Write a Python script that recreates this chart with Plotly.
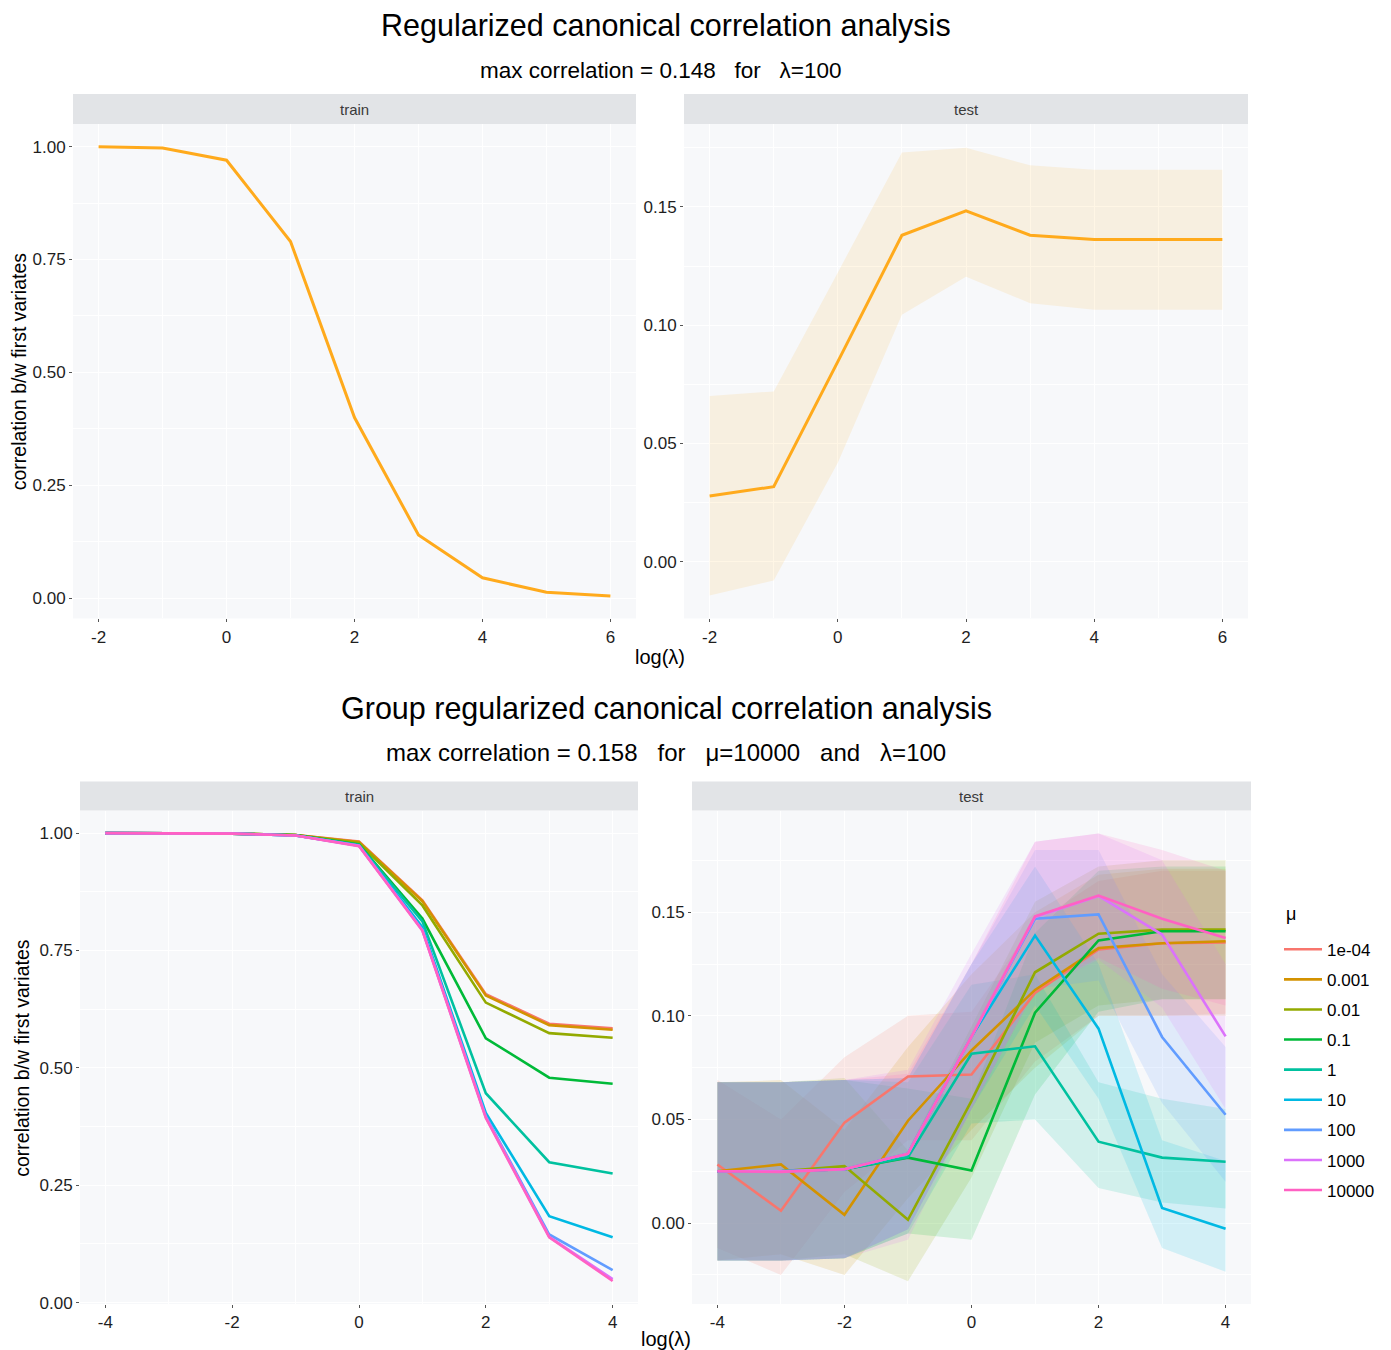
import plotly.graph_objects as go

W = 1391
SY = 1350 / 1360          # observed vertical compression of the photographed page
H = 1360

# ---------------- Data: regularized CCA ----------------
log_lambda_top = [-2, -1, 0, 1, 2, 3, 4, 5, 6]
train_top = [1.000, 0.997, 0.970, 0.790, 0.400, 0.140, 0.045, 0.013, 0.005]
test_top = [0.0278, 0.0317, 0.0846, 0.1380, 0.1483, 0.1380, 0.1362, 0.1362, 0.1362]
test_top_upper = [0.0700, 0.0720, 0.1223, 0.1730, 0.1750, 0.1676, 0.1657, 0.1657, 0.1657]
test_top_lower = [-0.0143, -0.0080, 0.0418, 0.1044, 0.1205, 0.1093, 0.1065, 0.1065, 0.1065]

x_ticks_top = [-2, 0, 2, 4, 6]
x_ticks_top_labels = ["-2", "0", "2", "4", "6"]
x_ticks_bot = [-4, -2, 0, 2, 4]
x_ticks_bot_labels = ["-4", "-2", "0", "2", "4"]
y_ticks_train = [0, 0.25, 0.5, 0.75, 1.0]
y_ticks_test = [0, 0.05, 0.10, 0.15]

# ---------------- Data: group regularized CCA ----------------
log_lambda_bot = [-4, -3, -2, -1, 0, 1, 2, 3, 4]
mu_labels = ["1e-04", "0.001", "0.01", "0.1", "1", "10", "100", "1000", "10000"]
mu_colors = ["#F8766D", "#D39200", "#93AA00", "#00BA38", "#00C19F",
             "#00B9E3", "#619CFF", "#DB72FB", "#FF61C3"]

train_mu = {
    "1e-04": [1.000, 1.000, 0.999, 0.996, 0.982, 0.857, 0.657, 0.594, 0.584],
    "0.001": [1.000, 1.000, 0.999, 0.996, 0.981, 0.855, 0.654, 0.591, 0.581],
    "0.01":  [1.000, 1.000, 0.999, 0.996, 0.979, 0.846, 0.639, 0.574, 0.564],
    "0.1":   [1.000, 1.000, 0.999, 0.996, 0.976, 0.818, 0.563, 0.479, 0.466],
    "1":     [1.000, 1.000, 0.999, 0.995, 0.975, 0.812, 0.446, 0.299, 0.275],
    "10":    [1.000, 1.000, 0.999, 0.995, 0.974, 0.800, 0.404, 0.184, 0.139],
    "100":   [1.000, 1.000, 0.999, 0.995, 0.973, 0.794, 0.397, 0.145, 0.069],
    "1000":  [1.000, 1.000, 0.999, 0.995, 0.973, 0.793, 0.395, 0.140, 0.050],
    "10000": [1.000, 1.000, 0.999, 0.995, 0.972, 0.792, 0.393, 0.139, 0.046],
}

test_mu = {
    "1e-04": [0.0283, 0.0060, 0.0485, 0.0707, 0.0717, 0.1110, 0.1320, 0.1350, 0.1354],
    "0.001": [0.0250, 0.0283, 0.0040, 0.0494, 0.0833, 0.1125, 0.1327, 0.1350, 0.1360],
    "0.01":  [0.0250, 0.0250, 0.0275, 0.0016, 0.0590, 0.1210, 0.1396, 0.1416, 0.1416],
    "0.1":   [0.0250, 0.0250, 0.0260, 0.0316, 0.0254, 0.1015, 0.1364, 0.1408, 0.1408],
    "1":     [0.0250, 0.0250, 0.0260, 0.0318, 0.0817, 0.0853, 0.0393, 0.0316, 0.0296],
    "10":    [0.0250, 0.0250, 0.0260, 0.0335, 0.0900, 0.1387, 0.0938, 0.0073, -0.0027],
    "100":   [0.0250, 0.0250, 0.0260, 0.0335, 0.0900, 0.1468, 0.1489, 0.0898, 0.0523],
    "1000":  [0.0250, 0.0250, 0.0260, 0.0335, 0.0900, 0.1477, 0.1578, 0.1392, 0.0901],
    "10000": [0.0250, 0.0247, 0.0260, 0.0335, 0.0900, 0.1480, 0.1580, 0.1468, 0.1375],
}

test_mu_upper = {
    "1e-04": [0.069, 0.050, 0.080, 0.100, 0.102, 0.145, 0.165, 0.170, 0.170],
    "0.001": [0.068, 0.069, 0.045, 0.085, 0.120, 0.150, 0.168, 0.171, 0.171],
    "0.01":  [0.068, 0.068, 0.070, 0.035, 0.095, 0.155, 0.172, 0.175, 0.175],
    "0.1":   [0.068, 0.068, 0.069, 0.065, 0.060, 0.140, 0.170, 0.172, 0.172],
    "1":     [0.068, 0.068, 0.069, 0.068, 0.115, 0.120, 0.068, 0.060, 0.055],
    "10":    [0.068, 0.068, 0.069, 0.070, 0.125, 0.172, 0.125, 0.040, 0.030],
    "100":   [0.068, 0.068, 0.069, 0.070, 0.125, 0.180, 0.180, 0.120, 0.085],
    "1000":  [0.068, 0.068, 0.069, 0.074, 0.130, 0.184, 0.188, 0.175, 0.125],
    "10000": [0.068, 0.068, 0.069, 0.072, 0.125, 0.184, 0.188, 0.180, 0.170],
}

test_mu_lower = {
    "1e-04": [-0.012, -0.025, 0.015, 0.040, 0.040, 0.078, 0.100, 0.100, 0.101],
    "0.001": [-0.018, -0.015, -0.025, 0.012, 0.045, 0.075, 0.100, 0.100, 0.100],
    "0.01":  [-0.018, -0.018, -0.015, -0.028, 0.022, 0.087, 0.105, 0.108, 0.108],
    "0.1":   [-0.018, -0.018, -0.017, -0.005, -0.008, 0.062, 0.102, 0.108, 0.108],
    "1":     [-0.018, -0.018, -0.017, -0.005, 0.048, 0.050, 0.017, 0.010, 0.007],
    "10":    [-0.018, -0.018, -0.017, -0.003, 0.055, 0.105, 0.060, -0.012, -0.0235],
    "100":   [-0.018, -0.018, -0.017, -0.003, 0.055, 0.113, 0.117, 0.058, 0.020],
    "1000":  [-0.018, -0.018, -0.017, -0.008, 0.055, 0.112, 0.127, 0.104, 0.055],
    "10000": [-0.018, -0.018, -0.017, -0.003, 0.055, 0.112, 0.128, 0.113, 0.105],
}

ORANGE = "#FFAA1C"
PANEL_BG = "#F7F8FA"
STRIP_BG = "#E2E4E7"
FONT = "Liberation Sans, Arial, Helvetica, sans-serif"
NB = "\u00a0"


def rgba(hex_color, a):
    h = hex_color.lstrip("#")
    r, g, b = int(h[0:2], 16), int(h[2:4], 16), int(h[4:6], 16)
    return f"rgba({r},{g},{b},{a})"


fig = go.Figure()

# top-left: train
fig.add_trace(go.Scatter(x=log_lambda_top, y=train_top, mode="lines",
                         line=dict(color=ORANGE, width=3), showlegend=False,
                         xaxis="x", yaxis="y"))
# top-right: test ribbon + line
fig.add_trace(go.Scatter(x=log_lambda_top + log_lambda_top[::-1],
                         y=test_top_upper + test_top_lower[::-1],
                         fill="toself", fillcolor=rgba("#FFA500", 0.10),
                         line=dict(width=0), mode="lines", hoverinfo="skip",
                         showlegend=False, xaxis="x2", yaxis="y2"))
fig.add_trace(go.Scatter(x=log_lambda_top, y=test_top, mode="lines",
                         line=dict(color=ORANGE, width=3), showlegend=False,
                         xaxis="x2", yaxis="y2"))

# bottom-left: train lines
for lab, col in zip(mu_labels, mu_colors):
    fig.add_trace(go.Scatter(x=log_lambda_bot, y=train_mu[lab], mode="lines",
                             line=dict(color=col, width=2.6), showlegend=False,
                             xaxis="x3", yaxis="y3"))

# bottom-right: ribbons first, then lines
for lab, col in zip(mu_labels, mu_colors):
    fig.add_trace(go.Scatter(x=log_lambda_bot + log_lambda_bot[::-1],
                             y=test_mu_upper[lab] + test_mu_lower[lab][::-1],
                             fill="toself", fillcolor=rgba(col, 0.15),
                             line=dict(width=0), mode="lines", hoverinfo="skip",
                             showlegend=False, xaxis="x4", yaxis="y4"))
for lab, col in zip(mu_labels, mu_colors):
    fig.add_trace(go.Scatter(x=log_lambda_bot, y=test_mu[lab], mode="lines",
                             name=lab, legendgroup=lab,
                             line=dict(color=col, width=2.6), showlegend=True,
                             xaxis="x4", yaxis="y4"))


def px_x(p):
    return p / W


def px_y(p):
    return 1 - (p / SY) / H


def xd(a, b):
    return [px_x(a), px_x(b)]


def yd(top, bottom):
    return [px_y(bottom), px_y(top)]


axis_common = dict(showline=False, zeroline=False, ticks="outside", ticklen=3,
                   tickwidth=1, tickcolor="#555555", showgrid=True,
                   gridcolor="white", gridwidth=1.4,
                   tickfont=dict(family=FONT, size=17, color="#1e1e1e"))


def minor(vals):
    return dict(tickvals=vals, showgrid=True, gridcolor="white", gridwidth=0.7, ticks="")


fig.update_layout(
    xaxis=dict(domain=xd(73, 636), range=[-2.4, 6.4], tickvals=x_ticks_top,
               ticktext=x_ticks_top_labels, minor=minor([-1, 1, 3, 5]),
               anchor="y", **axis_common),
    yaxis=dict(domain=yd(124, 618), range=[-0.045, 1.05], tickvals=y_ticks_train,
               tickformat=".2f", minor=minor([0.125, 0.375, 0.625, 0.875]),
               anchor="x", **axis_common),
    xaxis2=dict(domain=xd(684, 1248), range=[-2.4, 6.4], tickvals=x_ticks_top,
                ticktext=x_ticks_top_labels, minor=minor([-1, 1, 3, 5]),
                anchor="y2", **axis_common),
    yaxis2=dict(domain=yd(124, 618), range=[-0.024, 0.185], tickvals=y_ticks_test,
                tickformat=".2f", minor=minor([-0.025, 0.025, 0.075, 0.125, 0.175]),
                anchor="x2", **axis_common),
    xaxis3=dict(domain=xd(80, 638), range=[-4.4, 4.4], tickvals=x_ticks_bot,
                ticktext=x_ticks_bot_labels, minor=minor([-3, -1, 1, 3]),
                anchor="y3", **axis_common),
    yaxis3=dict(domain=yd(810, 1303), range=[-0.003, 1.048], tickvals=y_ticks_train,
                tickformat=".2f", minor=minor([0.125, 0.375, 0.625, 0.875]),
                anchor="x3", **axis_common),
    xaxis4=dict(domain=xd(692, 1251), range=[-4.4, 4.4], tickvals=x_ticks_bot,
                ticktext=x_ticks_bot_labels, minor=minor([-3, -1, 1, 3]),
                anchor="y4", **axis_common),
    yaxis4=dict(domain=yd(810, 1303), range=[-0.039, 0.199], tickvals=y_ticks_test,
                tickformat=".2f", minor=minor([-0.025, 0.025, 0.075, 0.125, 0.175]),
                anchor="x4", **axis_common),
)

shapes = []
annotations = []
strips = [(73, 636, 94, 124, "train"), (684, 1248, 94, 124, "test"),
          (80, 638, 781, 810, "train"), (692, 1251, 781, 810, "test")]
for x0, x1, y0, y1, s in strips:
    shapes.append(dict(type="rect", xref="paper", yref="paper",
                       x0=px_x(x0), x1=px_x(x1), y0=px_y(y1), y1=px_y(y0),
                       fillcolor=STRIP_BG, line=dict(width=0), layer="below"))
    annotations.append(dict(xref="paper", yref="paper", x=px_x((x0 + x1) / 2),
                            y=px_y((y0 + y1) / 2), text=s, showarrow=False,
                            xanchor="center", yanchor="middle",
                            font=dict(family=FONT, size=15, color="#3a3a3a")))


def txt(x, y, s, size, angle=0, color="black", xanchor="center"):
    annotations.append(dict(xref="paper", yref="paper", x=px_x(x), y=px_y(y),
                            text=s, showarrow=False, xanchor=xanchor,
                            yanchor="middle", textangle=angle,
                            font=dict(family=FONT, size=size, color=color)))


G3 = " " + NB + NB
txt(666, 25, "Regularized canonical correlation analysis", 30.5)
txt(660, 70, f"max correlation = 0.148{G3}for{G3}λ=100", 22.5)
txt(666, 708, "Group regularized canonical correlation analysis", 30.5)
txt(666, 752, f"max correlation = 0.158{G3}for{G3}μ=10000{G3}and{G3}λ=100", 24)
txt(660, 657, "log(λ)", 20)
txt(666, 1338, "log(λ)", 20)
txt(19, 371, "correlation b/w first variates", 19.5, angle=-90)
txt(22, 1057, "correlation b/w first variates", 19.5, angle=-90)
txt(1284, 913, "μ", 18, xanchor="left")

fig.update_layout(
    width=W, height=H,
    margin=dict(l=0, r=0, t=0, b=0),
    paper_bgcolor="white",
    plot_bgcolor=PANEL_BG,
    shapes=shapes,
    annotations=annotations,
    font=dict(family=FONT),
    showlegend=True,
    legend=dict(x=px_x(1279), y=px_y(931), xanchor="left", yanchor="top",
                font=dict(family=FONT, size=17, color="black"),
                tracegroupgap=5, itemwidth=38, bgcolor="rgba(0,0,0,0)"),
)

fig.write_html("out.html", config={"displayModeBar": False},
               post_script="document.body.style.margin='0';")
